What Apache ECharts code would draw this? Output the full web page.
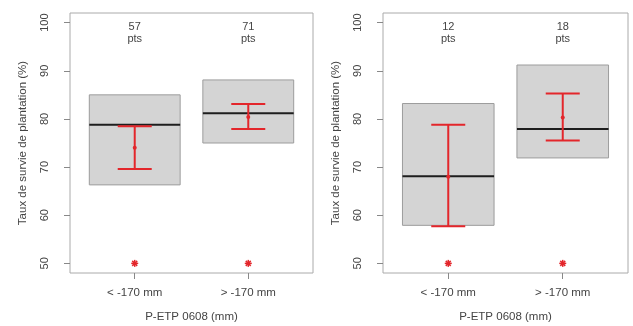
<!DOCTYPE html>
<html>
<head>
<meta charset="utf-8">
<script src="https://cdn.jsdelivr.net/npm/echarts@6/dist/echarts.min.js"></script>
<style>
  html, body { margin: 0; padding: 0; background: #fff; }
  #chart { width: 633px; height: 326px; }
</style>
</head>
<body>
<div id="chart"></div>
<script>
  // categories et positions
  var categories = ['< -170 mm', '> -170 mm'];
  var xPos = [1, 2];
  var yTicks = [50, 60, 70, 80, 90, 100];

  // panneau gauche
  var boxLow1 = [66.3, 75.0];
  var boxHigh1 = [85.0, 88.1];
  var median1 = [78.8, 81.2];
  var errLow1 = [69.6, 77.9];
  var errHigh1 = [78.5, 83.1];
  var mean1 = [74.0, 80.4];
  var count1 = [57, 71];

  // panneau droit
  var boxLow2 = [57.9, 71.9];
  var boxHigh2 = [83.2, 91.2];
  var median2 = [68.1, 77.9];
  var errLow2 = [57.7, 75.5];
  var errHigh2 = [78.8, 85.3];
  var mean2 = [68.0, 80.3];
  var count2 = [12, 18];

  // points aberrants (etoiles)
  var star1 = [50, 50];
  var star2 = [50, 50];

  var textColor = '#444';
  var red = '#e3262b';
  var font = 'Liberation Sans';

  function renderBox(params, api) {
    var x = api.value(0);
    var p1 = api.coord([x - 0.4, api.value(2)]);
    var p2 = api.coord([x + 0.4, api.value(1)]);
    var m1 = api.coord([x - 0.4, api.value(3)]);
    var m2 = api.coord([x + 0.4, api.value(3)]);
    return {
      type: 'group',
      children: [
        { type: 'rect', shape: { x: p1[0], y: p1[1], width: p2[0] - p1[0], height: p2[1] - p1[1] },
          style: { fill: '#d4d4d4', stroke: '#9c9c9c', lineWidth: 1 } },
        { type: 'line', shape: { x1: m1[0], y1: m1[1], x2: m2[0], y2: m2[1] },
          style: { stroke: '#1e1e1e', lineWidth: 2 } }
      ]
    };
  }

  function renderErr(params, api) {
    var x = api.value(0);
    var lo = api.coord([x, api.value(1)]);
    var hi = api.coord([x, api.value(2)]);
    var mn = api.coord([x, api.value(3)]);
    var cap = 17;
    var st = { stroke: red, lineWidth: 2 };
    return {
      type: 'group',
      children: [
        { type: 'line', shape: { x1: lo[0], y1: lo[1], x2: hi[0], y2: hi[1] }, style: st },
        { type: 'line', shape: { x1: lo[0] - cap, y1: lo[1], x2: lo[0] + cap, y2: lo[1] }, style: st },
        { type: 'line', shape: { x1: hi[0] - cap, y1: hi[1], x2: hi[0] + cap, y2: hi[1] }, style: st },
        { type: 'circle', shape: { cx: mn[0], cy: mn[1], r: 2 }, style: { fill: red } }
      ]
    };
  }

  function renderStar(params, api) {
    var c = api.coord([api.value(0), api.value(1)]);
    var r = 3.5;
    var st = { stroke: red, lineWidth: 1.5 };
    var kids = [];
    for (var i = 0; i < 4; i++) {
      var a = i * Math.PI / 4;
      kids.push({ type: 'line', shape: {
        x1: c[0] - r * Math.cos(a), y1: c[1] - r * Math.sin(a),
        x2: c[0] + r * Math.cos(a), y2: c[1] + r * Math.sin(a) }, style: st });
    }
    return { type: 'group', children: kids };
  }

  function renderCount(params, api) {
    var x = api.value(0);
    var a = api.coord([x, 99.2]);
    var b = api.coord([x, 96.7]);
    var st = { fill: textColor, fontSize: 11, fontFamily: font, align: 'center', verticalAlign: 'middle' };
    return {
      type: 'group',
      children: [
        { type: 'text', x: a[0], y: a[1], style: Object.assign({ text: String(api.value(1)) }, st) },
        { type: 'text', x: b[0], y: b[1], style: Object.assign({ text: 'pts' }, st) }
      ]
    };
  }

  function zip() {
    var arrs = Array.prototype.slice.call(arguments);
    return xPos.map(function (x, i) {
      return [x].concat(arrs.map(function (a) { return a[i]; }));
    });
  }

  function xAxisFor(idx) {
    return {
      type: 'value', gridIndex: idx, min: 0.43, max: 2.57,
      name: 'P-ETP 0608 (mm)', nameLocation: 'middle', nameGap: 38,
      nameTextStyle: { color: textColor, fontSize: 11.5, fontFamily: font },
      axisLine: { show: false },
      splitLine: { show: false },
      axisTick: { show: true, length: 6, customValues: xPos, lineStyle: { color: '#888' } },
      axisLabel: { customValues: xPos, margin: 14, color: textColor, fontSize: 11.5, fontFamily: font,
        formatter: function (v) { return categories[Math.round(v) - 1]; } }
    };
  }

  function yAxisFor(idx) {
    return {
      type: 'value', gridIndex: idx, min: 48, max: 102,
      name: 'Taux de survie de plantation (%)', nameLocation: 'middle', nameGap: 41,
      nameTextStyle: { color: textColor, fontSize: 11.5, fontFamily: font },
      axisLine: { show: false },
      splitLine: { show: false },
      axisTick: { show: true, length: 6, customValues: yTicks, lineStyle: { color: '#888' } },
      axisLabel: { customValues: yTicks, rotate: 90, margin: 20, color: textColor, fontSize: 11, fontFamily: font }
    };
  }

  function panelSeries(idx, low, high, med, eLo, eHi, mean, count, star) {
    return [
      { type: 'custom', xAxisIndex: idx, yAxisIndex: idx, renderItem: renderBox, data: zip(low, high, med) },
      { type: 'custom', xAxisIndex: idx, yAxisIndex: idx, renderItem: renderErr, data: zip(eLo, eHi, mean) },
      { type: 'custom', xAxisIndex: idx, yAxisIndex: idx, renderItem: renderStar, data: zip(star) },
      { type: 'custom', xAxisIndex: idx, yAxisIndex: idx, renderItem: renderCount, data: zip(count) }
    ];
  }

  var chart = echarts.init(document.getElementById('chart'));
  chart.setOption({
    animation: false,
    backgroundColor: '#fff',
    grid: [
      { left: 70, top: 13, width: 243, height: 260, show: true, borderColor: '#aaa', borderWidth: 1,
        outerBoundsMode: 'none', containLabel: false },
      { left: 383, top: 13, width: 245, height: 260, show: true, borderColor: '#aaa', borderWidth: 1,
        outerBoundsMode: 'none', containLabel: false }
    ],
    xAxis: [xAxisFor(0), xAxisFor(1)],
    yAxis: [yAxisFor(0), yAxisFor(1)],
    series: panelSeries(0, boxLow1, boxHigh1, median1, errLow1, errHigh1, mean1, count1, star1)
      .concat(panelSeries(1, boxLow2, boxHigh2, median2, errLow2, errHigh2, mean2, count2, star2))
  });
</script>
</body>
</html>
